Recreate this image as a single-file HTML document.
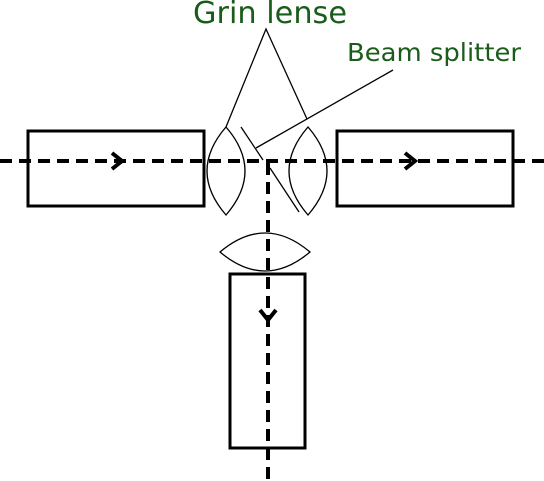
<!DOCTYPE html>
<html><head><style>body{margin:0;background:#fff}svg{display:block}</style></head><body>
<svg width="544" height="481" xmlns="http://www.w3.org/2000/svg">
<rect width="544" height="481" fill="#fff"/>
<g fill="none" stroke="#000" stroke-width="3">
<rect x="28" y="131" width="176" height="75"/>
<rect x="337" y="131" width="176" height="75"/>
<rect x="230" y="274" width="75" height="174"/>
</g>
<g fill="none" stroke="#000" stroke-width="1.3">
<path d="M226,127 Q188,171 226,215 Q264,171 226,127Z"/>
<path d="M308,127 Q270,171 308,215 Q346,171 308,127Z"/>
<path d="M220,252 Q265,214 310,252 Q265,290 220,252Z"/>
<path d="M241,127 L263,160"/>
<path d="M270,168 L299,212"/>
<path d="M226,127 L266,29 L307,119"/>
<path d="M393,70 L256,148"/>
</g>
<g stroke="#000" stroke-width="4" stroke-dasharray="12,7" fill="none">
<line x1="0" y1="161" x2="544" y2="161"/>
<line x1="268" y1="163" x2="268" y2="481"/>
</g>
<g fill="none" stroke="#000" stroke-width="4">
<path d="M112,153 L122,161 L112,169"/>
<path d="M405,153 L415,161 L405,169"/>
<path d="M260,310 L268,320 L276,310"/>
</g>
<g fill="#1a5c1a" font-family="'DejaVu Sans','Liberation Sans',sans-serif">
<text x="270" y="23" font-size="30" text-anchor="middle" textLength="154" lengthAdjust="spacingAndGlyphs">Grin lense</text>
<text x="347" y="61" font-size="25" textLength="174" lengthAdjust="spacingAndGlyphs">Beam splitter</text>
</g>
</svg>
</body></html>
